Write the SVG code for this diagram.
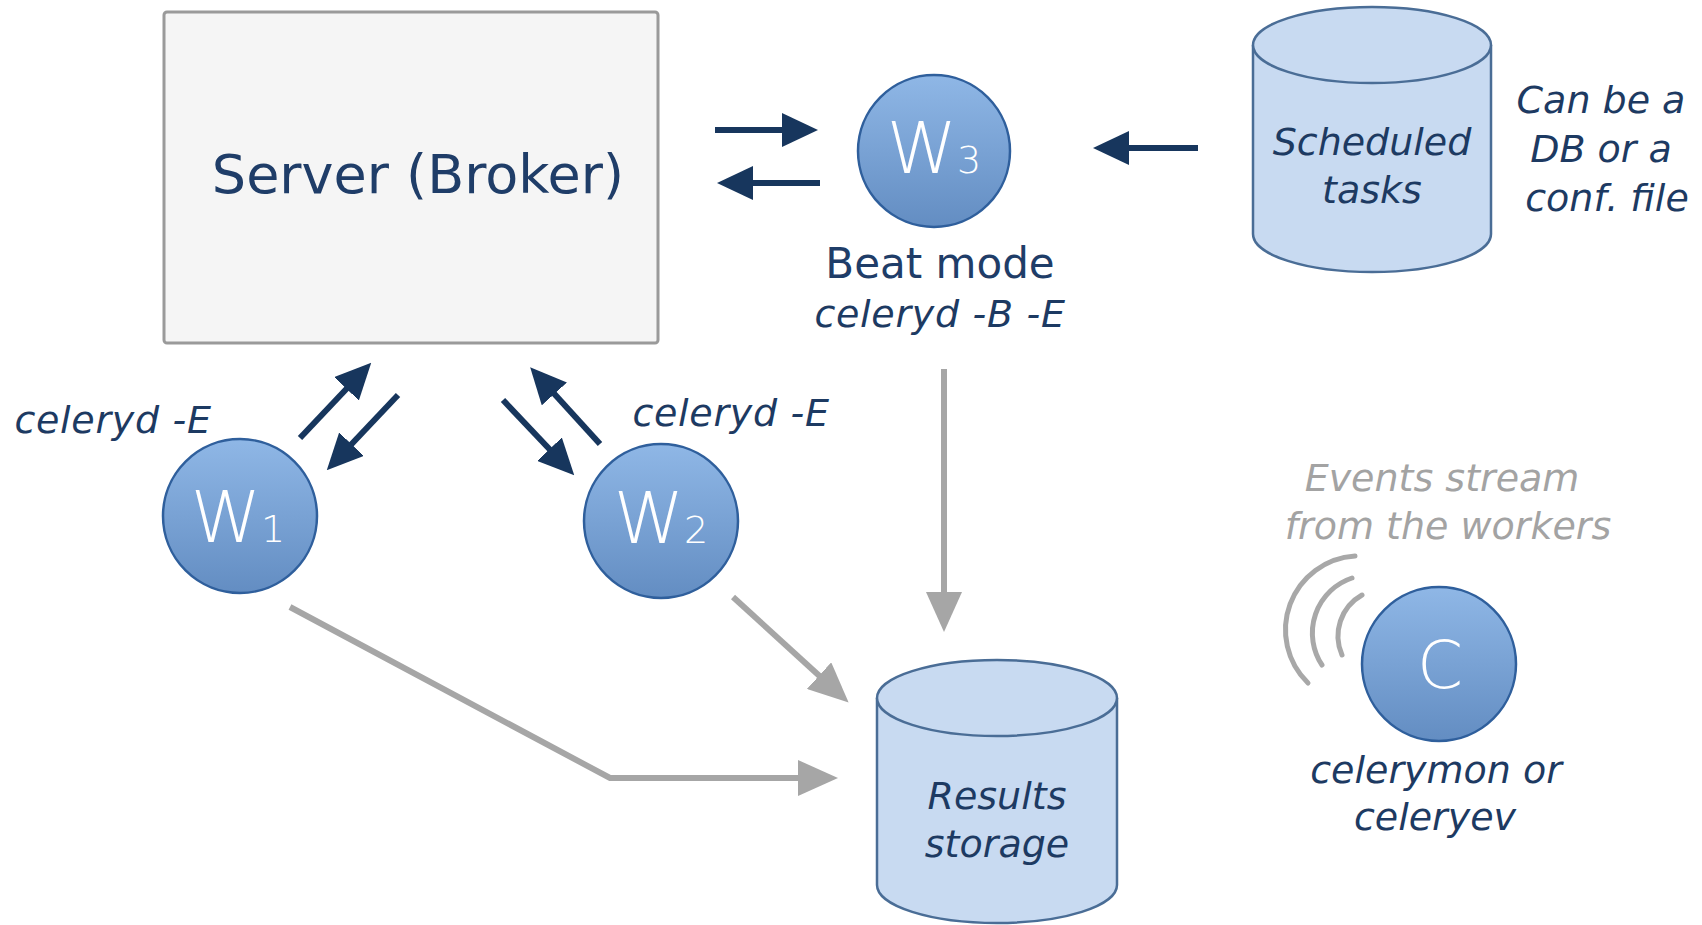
<svg xmlns="http://www.w3.org/2000/svg" width="1702" height="925" viewBox="0 0 1702 925">
<style>
.lbl{font-family:"DejaVu Sans","Verdana",sans-serif;font-style:italic;font-size:38px;fill:#1d3a62;text-anchor:middle}
.cmd{letter-spacing:0.7px}
.grey{fill:#a3a3a3}
.euro{font-family:"DejaVu Sans",sans-serif;fill:#1f3d68;text-anchor:middle}
.wt{font-family:"DejaVu Sans",sans-serif;fill:#ffffff;font-weight:300}
.node{fill:url(#blue);stroke:#2f5f9c;stroke-width:2.5}
.cyl{fill:#c8daf1;stroke:#4a6d96;stroke-width:2.5}
.nav{stroke:#17365d;stroke-width:6;fill:none}
.gr{stroke:#a6a6a6;stroke-width:6;fill:none}
.arc{stroke:#a8a8a8;stroke-width:5;fill:none;stroke-linecap:round}
</style>
<defs>
<linearGradient id="blue" x1="0" y1="0" x2="0" y2="1">
<stop offset="0" stop-color="#8fb7e6"/>
<stop offset="1" stop-color="#638dc2"/>
</linearGradient>
<marker id="hn" markerUnits="userSpaceOnUse" viewBox="0 0 36 34" markerWidth="36" markerHeight="34" refX="8" refY="17" orient="auto">
<path d="M0,0 L36,17 L0,34 z" fill="#17365d"/>
</marker>
<marker id="hg" markerUnits="userSpaceOnUse" viewBox="0 0 40 36" markerWidth="40" markerHeight="36" refX="8" refY="18" orient="auto">
<path d="M0,0 L40,18 L0,36 z" fill="#a6a6a6"/>
</marker>
</defs>
<rect width="1702" height="925" fill="#ffffff"/>

<g id="server">
<rect x="164" y="12" width="494" height="331" rx="3" fill="#f5f5f5" stroke="#9a9a9a" stroke-width="3"/>
<text class="euro" x="418" y="193" font-size="54">Server (Broker)</text>
</g>

<g id="w3">
<circle class="node" cx="934" cy="151" r="76"/>
<text class="wt" x="934" y="173" text-anchor="middle"><tspan font-size="71">W</tspan><tspan font-size="38">3</tspan></text>
<text class="euro" x="940" y="278" font-size="42">Beat mode</text>
<text class="lbl cmd" x="940" y="327">celeryd -B -E</text>
</g>

<g id="scheduled">
<path class="cyl" d="M1253,45 L1253,234 A119,38 0 0 0 1491,234 L1491,45"/>
<ellipse class="cyl" cx="1372" cy="45" rx="119" ry="38"/>
<text class="lbl" x="1372" y="155">Scheduled</text>
<text class="lbl" x="1372" y="203">tasks</text>
<text class="lbl" x="1601" y="113">Can be a</text>
<text class="lbl" x="1601" y="162">DB or a</text>
<text class="lbl" x="1607" y="211">conf. file</text>
</g>

<g id="w1">
<circle class="node" cx="240" cy="516" r="77"/>
<text class="wt" x="238" y="542" text-anchor="middle"><tspan font-size="71">W</tspan><tspan font-size="38">1</tspan></text>
<text class="lbl cmd" x="113" y="433">celeryd -E</text>
</g>

<g id="w2">
<circle class="node" cx="661" cy="521" r="77"/>
<text class="wt" x="661" y="543" text-anchor="middle"><tspan font-size="71">W</tspan><tspan font-size="38">2</tspan></text>
<text class="lbl cmd" x="731" y="426">celeryd -E</text>
</g>

<g id="results">
<path class="cyl" d="M877,698 L877,885 A120,38 0 0 0 1117,885 L1117,698"/>
<ellipse class="cyl" cx="997" cy="698" rx="120" ry="38"/>
<text class="lbl" x="997" y="809">Results</text>
<text class="lbl" x="997" y="857">storage</text>
</g>

<g id="monitor">
<text class="lbl grey" x="1442" y="491">Events stream</text>
<text class="lbl grey" x="1448" y="539">from the workers</text>
<path class="arc" d="M1355,556 A74,74 0 0 0 1308,683"/>
<path class="arc" d="M1352,578 A58,58 0 0 0 1322,665"/>
<path class="arc" d="M1362,595 A47,47 0 0 0 1342,655"/>
<circle class="node" cx="1439" cy="664" r="77"/>
<text class="wt" x="1440" y="688" text-anchor="middle" font-size="66">C</text>
<text class="lbl" x="1436" y="783">celerymon or</text>
<text class="lbl" x="1435" y="830">celeryev</text>
</g>

<g id="connectors">
<line class="nav" x1="715" y1="130" x2="790" y2="130" marker-end="url(#hn)"/>
<line class="nav" x1="820" y1="183" x2="745" y2="183" marker-end="url(#hn)"/>
<line class="nav" x1="1198" y1="148" x2="1121" y2="148" marker-end="url(#hn)"/>
<line class="nav" x1="300" y1="438" x2="352" y2="383" marker-end="url(#hn)"/>
<line class="nav" x1="398" y1="395" x2="346" y2="450" marker-end="url(#hn)"/>
<line class="nav" x1="600" y1="444" x2="549" y2="388" marker-end="url(#hn)"/>
<line class="nav" x1="503" y1="400" x2="555" y2="455" marker-end="url(#hn)"/>
<polyline class="gr" points="290,607 610,778 806,778" marker-end="url(#hg)"/>
<line class="gr" x1="733" y1="597" x2="825" y2="681" marker-end="url(#hg)"/>
<line class="gr" x1="944" y1="369" x2="944" y2="600" marker-end="url(#hg)"/>
</g>
</svg>
